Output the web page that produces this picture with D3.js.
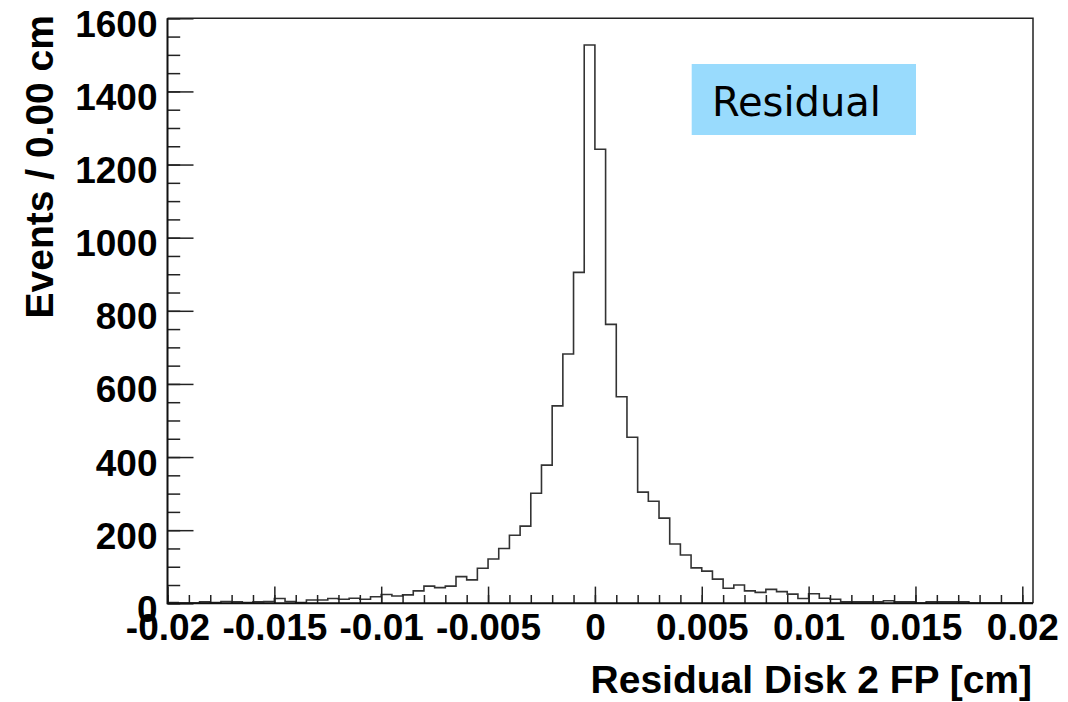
<!DOCTYPE html>
<html>
<head>
<meta charset="utf-8">
<script src="https://cdn.jsdelivr.net/npm/d3@7"></script>
<style>
  body { margin: 0; background: #fff; }
  svg { display: block; }
</style>
</head>
<body>
<div id="chart"></div>
<script>
// histogram: 81 bins of 0.0005 cm starting at -0.02
var binStart = -0.02,
    binWidth = 0.0005;

var counts = [
  2, 1, 1, 4, 2, 5, 4, 2, 4, 5,
  13, 5, 2, 9, 9, 13, 11, 14, 11, 18,
  24, 20, 23, 34, 47, 43, 47, 73, 64, 96,
  121, 150, 186, 211, 301, 378, 540, 682, 905, 1527,
  1242, 763, 565, 454, 304, 279, 233, 162, 132, 97,
  88, 66, 41, 50, 34, 30, 38, 32, 25, 13,
  26, 14, 11, 4, 4, 4, 4, 7, 4, 4,
  1, 4, 4, 4, 4, 1, 1, 1, 1, 1, 1
];

var xTicks = [-0.02, -0.015, -0.01, -0.005, 0, 0.005, 0.01, 0.015, 0.02];
var xTickLabels = ["-0.02", "-0.015", "-0.01", "-0.005", "0", "0.005", "0.01", "0.015", "0.02"];
var yTicks = [0, 200, 400, 600, 800, 1000, 1200, 1400, 1600];
var yTickLabels = ["0", "200", "400", "600", "800", "1000", "1200", "1400", "1600"];

var xTitle = "Residual Disk 2 FP [cm]",
    yTitle = "Events / 0.00 cm",
    boxLabel = "Residual";

var W = 1068, H = 702;
var plotL = 167.5, plotR = 1033, plotT = 18.3, plotB = 603.3;
var tickFont = "bold 37px 'Liberation Sans', Arial, sans-serif",
    titleFont = "bold 39px 'Liberation Sans', Arial, sans-serif";

var svg = d3.select("#chart").append("svg")
    .attr("width", W)
    .attr("height", H);

var x = d3.scaleLinear().domain([-0.02, 0.0205]).range([plotL, plotR]),
    y = d3.scaleLinear().domain([0, 1600]).range([plotB, plotT]);

// histogram outline
var pts = counts.map(function (c, i) {
    return [binStart + i * binWidth, c];
});
pts.push([binStart + counts.length * binWidth, counts[counts.length - 1]]);

svg.append("clipPath").attr("id", "frame")
  .append("rect")
    .attr("x", plotL).attr("y", plotT)
    .attr("width", plotR - plotL).attr("height", plotB - plotT);

var line = d3.line()
    .x(function (d) { return x(d[0]); })
    .y(function (d) { return y(d[1]); })
    .curve(d3.curveStepAfter);

svg.append("path")
    .attr("clip-path", "url(#frame)")
    .attr("d", line(pts))
    .attr("fill", "none")
    .attr("stroke", "#333")
    .attr("stroke-width", 1.6);

// frame
svg.append("path")
    .attr("d", "M" + plotL + "," + plotT + "H" + plotR + "V" + plotB)
    .attr("fill", "none")
    .attr("stroke", "#222")
    .attr("stroke-width", 1.5);

// x axis
var xMinor = d3.range(-20, 21).map(function (d) { return d / 1000; });
svg.append("g")
    .attr("transform", "translate(0," + plotB + ")")
    .call(d3.axisBottom(x).tickValues(xMinor).tickSize(-8.3).tickFormat(""))
    .call(function (g) { g.select(".domain").remove(); })
    .selectAll("line").attr("stroke", "#222").attr("stroke-width", 1.5);

var xAxis = svg.append("g")
    .attr("transform", "translate(0," + plotB + ")")
    .call(d3.axisBottom(x).tickValues(xTicks).tickSize(-16.7)
        .tickFormat(function (d, i) { return xTickLabels[i]; }));
xAxis.select(".domain").remove();
xAxis.selectAll("line").attr("stroke", "#222").attr("stroke-width", 1.5);
xAxis.selectAll("text")
    .attr("y", 37).attr("dy", null)
    .attr("fill", "#000")
    .style("font", tickFont);

// y axis
var yMinor = d3.range(0, 1601, 50);
svg.append("g")
    .attr("transform", "translate(" + plotL + ",0)")
    .call(d3.axisLeft(y).tickValues(yMinor).tickSize(-12.7).tickFormat(""))
    .call(function (g) { g.select(".domain").remove(); })
    .selectAll("line").attr("stroke", "#222").attr("stroke-width", 1.5);

var yAxis = svg.append("g")
    .attr("transform", "translate(" + plotL + ",0)")
    .call(d3.axisLeft(y).tickValues(yTicks).tickSize(-26)
        .tickFormat(function (d, i) { return yTickLabels[i]; }));
yAxis.select(".domain").remove();
yAxis.selectAll("line").attr("stroke", "#222").attr("stroke-width", 1.5);
yAxis.selectAll("text")
    .attr("x", -10).attr("y", 18).attr("dy", null)
    .attr("fill", "#000")
    .style("font", tickFont);

// axis lines
svg.append("path")
    .attr("d", "M" + plotL + "," + plotT + "V" + plotB + "H" + plotR)
    .attr("fill", "none")
    .attr("stroke", "#111")
    .attr("stroke-width", 2);

// titles
svg.append("text")
    .attr("x", 1032).attr("y", 693)
    .attr("text-anchor", "end")
    .style("font", titleFont)
    .text(xTitle);

svg.append("text")
    .attr("transform", "translate(53,15) rotate(-90)")
    .attr("text-anchor", "end")
    .style("font", titleFont)
    .text(yTitle);

// label box
svg.append("rect")
    .attr("x", 691.7).attr("y", 64)
    .attr("width", 224.3).attr("height", 71)
    .attr("fill", "#99dbfd");

svg.append("text")
    .attr("x", 712).attr("y", 116)
    .style("font", "40px 'DejaVu Sans', Verdana, sans-serif")
    .attr("fill", "#000")
    .text(boxLabel);
</script>
</body>
</html>
